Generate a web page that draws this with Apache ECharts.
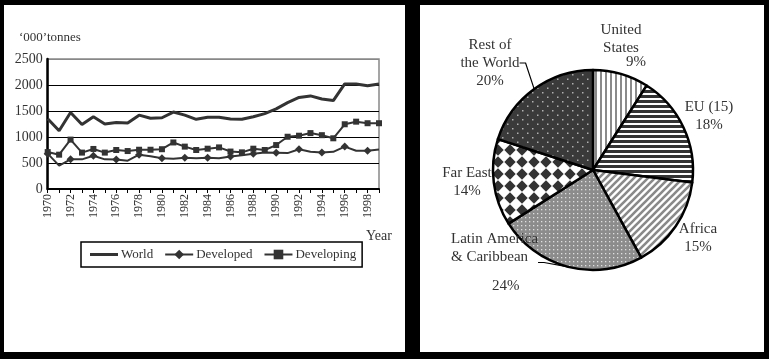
<!DOCTYPE html>
<html><head><meta charset="utf-8">
<script src="https://cdn.jsdelivr.net/npm/echarts@6/dist/echarts.min.js"></script>
<style>html,body{margin:0;padding:0;background:#000;}#c{width:769px;height:359px;}</style>
</head><body><div id="c"></div>
<script>
const years = ['1970','1971','1972','1973','1974','1975','1976','1977','1978','1979','1980','1981','1982','1983','1984','1985','1986','1987','1988','1989','1990','1991','1992','1993','1994','1995','1996','1997','1998','1999'];
const world = [1350,1120,1470,1240,1390,1250,1280,1270,1420,1360,1370,1480,1420,1340,1380,1380,1345,1340,1390,1450,1540,1660,1760,1790,1730,1700,2020,2020,1985,2020];
const developed = [680,450,570,570,640,570,565,545,660,630,590,580,600,590,600,590,625,650,680,700,695,690,765,715,700,715,815,735,735,760];
const developing = [710,660,950,700,770,700,750,730,755,755,765,895,815,750,775,800,720,705,775,750,845,1005,1025,1075,1035,975,1245,1295,1265,1265];
const regions = ['United\nStates','EU (15)','Africa','Latin America\n& Caribbean','Far East','Rest of\nthe World'];
const shares = [9,18,15,24,14,20];

const FONT = "'Liberation Serif','Times New Roman',serif";
const INK = '#333';

function pat(w,h,draw){const c=document.createElement('canvas');c.width=w;c.height=h;const g=c.getContext('2d');draw(g,w,h);return {image:c,repeat:'repeat'};}
const patterns = [
  pat(5,5,(g)=>{g.fillStyle='#fff';g.fillRect(0,0,5,5);g.fillStyle='#8a8a8a';g.fillRect(0,0,2,5);}),
  pat(5,5,(g)=>{g.fillStyle='#fff';g.fillRect(0,0,5,5);g.fillStyle='#333';g.fillRect(0,0,5,3);}),
  pat(7,7,(g)=>{g.fillStyle='#fff';g.fillRect(0,0,7,7);g.strokeStyle='#8a8a8a';g.lineWidth=2.6;g.beginPath();g.moveTo(-1,8);g.lineTo(8,-1);g.moveTo(-2,2);g.lineTo(2,-2);g.moveTo(5,9);g.lineTo(9,5);g.stroke();}),
  pat(4,4,(g)=>{g.fillStyle='#8c8c8c';g.fillRect(0,0,4,4);g.fillStyle='#e0e0e0';g.fillRect(1,1,1.3,1.3);}),
  pat(12,12,(g)=>{g.fillStyle='#fff';g.fillRect(0,0,12,12);g.fillStyle='#333';g.beginPath();g.moveTo(6,0.3);g.lineTo(11.7,6);g.lineTo(6,11.7);g.lineTo(0.3,6);g.closePath();g.fill();}),
  pat(10,9,(g)=>{g.fillStyle='#3a3a3a';g.fillRect(0,0,10,9);g.fillStyle='#b0b0b0';g.fillRect(2,2,1.5,1.5);g.fillRect(7,6.5,1.5,1.5);})
];
// label anchor layout for pie labels: [x, y, align]
const labelPos = [[621,21,'center'],[709,98,'center'],[698,220,'center'],[451,230,'left'],[467,164,'center'],[490,36,'center']];

const pieData = regions.map((n,i)=>({
  name:n, value:shares[i],
  itemStyle:{color:patterns[i]},
  labelLine:{show:(i===3||i===5)}
}));

const chart = echarts.init(document.getElementById('c'));
chart.setOption({
  backgroundColor:'#000',
  animation:false,
  graphic:{elements:[
    {type:'rect',z:-100,silent:true,shape:{x:4,y:5,width:401,height:347},style:{fill:'#fff'}},
    {type:'rect',z:-100,silent:true,shape:{x:420,y:5,width:344,height:347},style:{fill:'#fff'}},
    {type:'text',left:19,top:31,style:{text:"\u2018000\u2019tonnes",font:"13px "+FONT,fill:INK}},
    {type:'text',left:366,top:229,style:{text:'Year',font:"14px "+FONT,fill:INK}}
  ]},
  grid:{left:47.7,right:390,top:59,bottom:170,show:true,borderColor:'#888',borderWidth:1.5,backgroundColor:'transparent'},
  legend:{
    left:81,top:242,padding:[6,6,6,9],itemGap:11,itemWidth:28,itemHeight:12,
    borderColor:'#000',borderWidth:1.5,backgroundColor:'#fff',
    textStyle:{fontFamily:FONT,fontSize:13,color:INK,padding:[0,0,0,-2]},
    data:[{name:'World',icon:'path://M0,0H28V3H0Z'},'Developed','Developing']
  },
  xAxis:{
    type:'category',data:years,boundaryGap:false,
    axisLine:{lineStyle:{color:'#000',width:2}},
    axisTick:{show:true,interval:0,length:4,lineStyle:{color:'#000',width:1}},
    axisLabel:{interval:1,rotate:90,fontFamily:FONT,fontSize:12,color:INK,margin:5},
    splitLine:{show:false}
  },
  yAxis:{
    type:'value',min:0,max:2500,interval:500,
    axisLine:{show:true,lineStyle:{color:'#000',width:2.5}},
    axisTick:{show:false},
    axisLabel:{fontFamily:FONT,fontSize:14,color:INK,margin:5,formatter:(v)=>String(v)},
    splitLine:{show:true,lineStyle:{color:['#000','#000','#000','#000','#000','#888'],width:1.2}}
  },
  series:[
    {name:'World',type:'line',data:world,symbol:'none',lineStyle:{color:INK,width:3},itemStyle:{color:INK},z:3},
    {name:'Developed',type:'line',data:developed,symbol:'diamond',symbolSize:8,lineStyle:{color:INK,width:2},itemStyle:{color:INK},z:4},
    {name:'Developing',type:'line',data:developing,symbol:'rect',symbolSize:6,lineStyle:{color:INK,width:2},itemStyle:{color:INK},z:4},
    {
      name:'Share',type:'pie',center:[593,170],radius:100,startAngle:90,clockwise:true,
      data:pieData,
      itemStyle:{borderColor:'#000',borderWidth:2.5},
      emphasis:{disabled:true},
      label:{
        show:true,position:'outside',fontFamily:FONT,fontSize:15,lineHeight:18,color:INK,
        formatter:(p)=>{
          const i=p.dataIndex;
          if(i===0) return p.name+'\n{u|'+shares[i]+'%}';
          if(i===3) return p.name+'\n{s| }\n{q|'+shares[i]+'%}';
          return p.name+'\n'+shares[i]+'%';
        },
        rich:{
          u:{fontFamily:FONT,fontSize:15,color:INK,lineHeight:11,padding:[0,0,0,30]},
          s:{fontSize:8,lineHeight:11},
          q:{fontFamily:FONT,fontSize:15,color:INK,lineHeight:18,padding:[0,0,0,41]}
        }
      },
      labelLine:{show:false,length:8,length2:6,lineStyle:{color:'#000',width:1.2}},
      labelLayout:(params)=>{const p=labelPos[params.dataIndex];return {x:p[0],y:p[1],align:p[2],verticalAlign:'top'};}
    }
  ]
});
</script></body></html>
